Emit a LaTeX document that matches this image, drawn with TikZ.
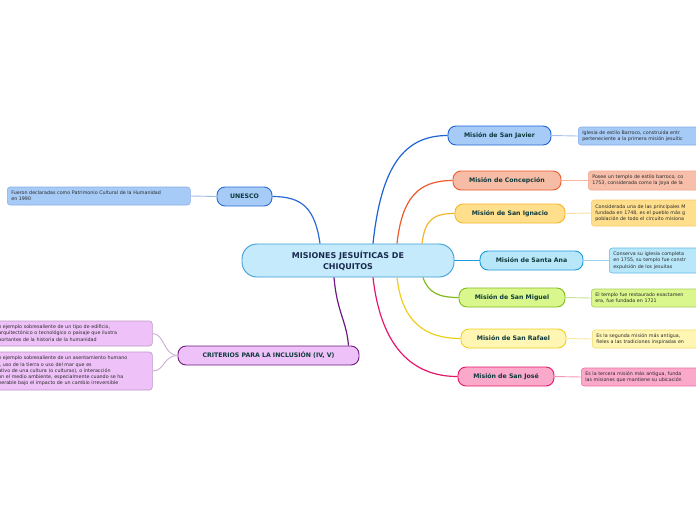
\documentclass[tikz,border=0pt]{standalone}
\usepackage{fontspec}
\setmainfont{DejaVu Sans}
\usepackage{tikz}
\usetikzlibrary{positioning,calc}

% colours
\definecolor{rootfill}{HTML}{C4EAFB}\definecolor{rootline}{HTML}{3D9ED8}
\definecolor{javfill}{HTML}{A6CBF7}\definecolor{javline}{HTML}{1E63D6}
\definecolor{confill}{HTML}{F7BCA6}\definecolor{conline}{HTML}{EE5A2C}
\definecolor{ignfill}{HTML}{FFDE8C}\definecolor{ignline}{HTML}{F5B52A}
\definecolor{anafill}{HTML}{B9E7FA}\definecolor{analine}{HTML}{1B9BDB}
\definecolor{migfill}{HTML}{D9F78C}\definecolor{migline}{HTML}{84BB1C}
\definecolor{raffill}{HTML}{FFF6B3}\definecolor{rafline}{HTML}{EFCE20}
\definecolor{josfill}{HTML}{FAA9CB}\definecolor{josline}{HTML}{E6166A}
\definecolor{unefill}{HTML}{A6CBF7}\definecolor{uneline}{HTML}{2A6BD6}
\definecolor{crifill}{HTML}{EEC2F8}\definecolor{criline}{HTML}{6E1A80}
\definecolor{labeltext}{HTML}{0E3A3C}
\definecolor{roottext}{HTML}{1A2A4E}
\definecolor{notetext}{HTML}{2A2A2A}

\begin{document}
\begin{tikzpicture}[
    x=1pt, y=-1pt,
    root/.style={rounded corners=15pt, draw=rootline, fill=rootfill, line width=0.9pt,
      minimum width=212pt, minimum height=33pt, align=center, text=roottext,
      font=\fontsize{8}{11}\selectfont\bfseries},
    topic/.style={rounded corners=8pt, line width=0.9pt, minimum height=19pt,
      inner sep=0pt, text=labeltext, font=\fontsize{6.2}{7}\selectfont\bfseries},
    note/.style={rounded corners=3pt, line width=0.6pt, anchor=west, inner xsep=4pt,
      inner ysep=2pt, text width=150pt, align=left, text=notetext,
      font=\fontsize{4.8}{6.3}\selectfont},
    link/.style={line width=1.2pt},
    sublink/.style={line width=0.9pt}
]
\useasboundingbox (0,0) rectangle (696,520);
\clip (0,0) rectangle (696,520);
\fill[white] (0,0) rectangle (696,520);

% Centre
\node[root] (root) at (348,260.5) {MISIONES JESUÍTICAS DE\\CHIQUITOS};

% Missions
\node[topic, draw=javline, fill=javfill, minimum width=103pt] (jav) at (499.5,135.5) {Misión de San Javier};
\node[topic, draw=conline, fill=confill, minimum width=108pt] (con) at (507,180.5) {Misión de Concepción};
\node[topic, draw=ignline, fill=ignfill, minimum width=110pt] (ign) at (510,213.5) {Misión de San Ignacio};
\node[topic, draw=analine, fill=anafill, minimum width=103pt] (ana) at (531.5,260.5) {Misión de Santa Ana};
\node[topic, draw=migline, fill=migfill, minimum width=106pt] (mig) at (512,297.5) {Misión de San Miguel};
\node[topic, draw=rafline, fill=raffill, minimum width=105pt] (raf) at (513.5,338.5) {Misión de San Rafael};
\node[topic, draw=josline, fill=josfill, minimum width=96pt] (jos) at (506,376.5) {Misión de San José};

% Left branches
\node[topic, draw=uneline, fill=unefill, minimum width=55pt] (une) at (244.5,196.5) {UNESCO};
\node[topic, draw=criline, fill=crifill, minimum width=181pt] (cri) at (268.5,355.5) {CRITERIOS PARA LA INCLUSIÓN (IV, V)};

% Notes, right
\node[note, draw=javline!55, fill=javfill, minimum height=18pt] (javnote) at (578,136)
  {Iglesia de estilo Barroco, construida entr\\perteneciente a la primera misión jesuític};
\node[note, draw=conline!55, fill=confill!95, minimum height=19pt] (connote) at (588,180.5)
  {Posee un templo de estilo barroco, co\\1753, considerada como la Joya de la};
\node[note, draw=ignline!70, fill=ignfill, minimum height=26pt] (ignnote) at (591,213)
  {Considerada una de las principales M\\fundada en 1748, es el pueblo más g\\población de todo el circuito misiona};
\node[note, draw=analine!70, fill=anafill, minimum height=25pt] (ananote) at (609,260.5)
  {Conserva su iglesia completa\\en 1755, su templo fue constr\\expulsión de los jesuitas};
\node[note, draw=migline!70, fill=migfill, minimum height=18pt] (mignote) at (591,298)
  {El templo fue restaurado exactamen\\era, fue fundada en 1721};
\node[note, draw=rafline!70, fill=raffill, minimum height=18pt] (rafnote) at (592,339)
  {Es la segunda misión más antigua, \\fieles a las tradiciones inspiradas en};
\node[note, draw=josline!60, fill=josfill, minimum height=18pt] (josnote) at (581,377)
  {Es la tercera misión más antigua, funda\\las misiones que mantiene su ubicación};

% Notes, left
\node[note, draw=uneline!55, fill=unefill, text width=175pt, minimum height=18pt] (unenote) at (7,196)
  {Fueron declaradas como Patrimonio Cultural de la Humanidad\\en 1990};
\node[note, draw=criline!45, fill=crifill, text width=152pt, inner xsep=2pt, minimum height=25pt] (crinote1) at (-4,333.5)
  {n ejemplo sobresaliente de un tipo de edificio,\\arquitectónico o tecnológico o paisaje que ilustra\\portantes de la historia de la humanidad};
\node[note, draw=criline!45, fill=crifill, text width=152pt, inner xsep=2pt, minimum height=38pt] (crinote2) at (-4,371)
  {n ejemplo sobresaliente de un asentamiento humano\\l, uso de la tierra o uso del mar que es\\ativo de una cultura (o culturas), o interacción\\on el medio ambiente, especialmente cuando se ha\\nerable bajo el impacto de un cambio irreversible};

% Branches from the centre
\draw[link, javline] ([xshift=25pt]root.north) .. controls +(8,-75) and +(-45,0) .. (jav.west);
\draw[link, conline] ([xshift=49pt]root.north) .. controls +(5,-45) and +(-35,0) .. (con.west);
\draw[link, ignline] ([xshift=74pt]root.north) .. controls +(3,-25) and +(-20,0) .. (ign.west);
\draw[link, analine] (root.east) -- (ana.west);
\draw[link, migline] ([xshift=75pt]root.south) .. controls +(5,15) and +(-20,0) .. (mig.west);
\draw[link, rafline] ([xshift=49pt]root.south) .. controls +(5,45) and +(-35,0) .. (raf.west);
\draw[link, josline] ([xshift=25pt]root.south) .. controls +(8,70) and +(-45,0) .. (jos.west);
\draw[link, uneline] ([xshift=-28pt]root.north) .. controls +(-5,-35) and +(30,0) .. (une.east);
\draw[link, criline] ([xshift=-14pt]root.south) .. controls +(3,35) and +(-2,-25) .. ([xshift=80pt]cri.north);

% Branches to the notes
\draw[sublink, javline!40] (jav.east) -- (javnote.west);
\draw[sublink, conline!45] (con.east) -- (connote.west);
\draw[sublink, ignline!45] (ign.east) -- (ignnote.west);
\draw[sublink, analine!45] (ana.east) -- (ananote.west);
\draw[sublink, migline!45] (mig.east) -- (mignote.west);
\draw[sublink, rafline!45] (raf.east) -- (rafnote.west);
\draw[sublink, josline!45] (jos.east) -- (josnote.west);
\draw[sublink, uneline!45] (une.west) -- (unenote.east);
\draw[sublink, criline!35] (cri.west) .. controls +(-14,0) and +(12,0) .. (crinote1.east);
\draw[sublink, criline!35] (cri.west) .. controls +(-14,0) and +(12,0) .. (crinote2.east);
\end{tikzpicture}
\end{document}
